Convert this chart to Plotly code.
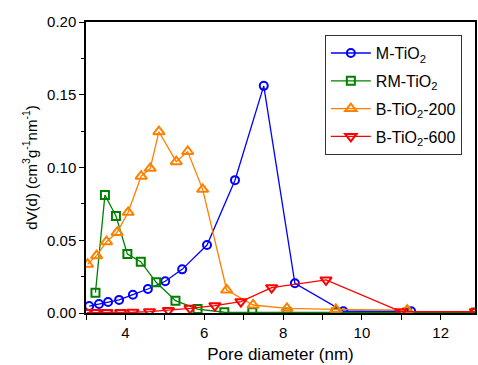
import plotly.graph_objects as go

m_x = [3.08, 3.33, 3.56, 3.84, 4.19, 4.57, 5.01, 5.44, 6.07, 6.78, 7.51, 8.30, 9.53, 11.25]
m_y = [0.0048, 0.0062, 0.0076, 0.0090, 0.0126, 0.0165, 0.0218, 0.0300, 0.0467, 0.0913, 0.1561, 0.0204, 0.0012, 0.0012]

rm_x = [3.24, 3.48, 3.76, 4.05, 4.39, 4.78, 5.27, 5.83, 6.51, 7.22, 8.10, 9.34, 11.15, 12.9]
rm_y = [0.0140, 0.0811, 0.0667, 0.0405, 0.0353, 0.0211, 0.0085, 0.0027, 0.0005, 0.0005, 0.0004, 0.0003, 0.0003, 0.0003]

b200_x = [3.04, 3.27, 3.52, 3.79, 4.07, 4.40, 4.63, 4.85, 5.29, 5.58, 5.96, 6.57, 7.24, 8.10, 9.34, 11.15]
b200_y = [0.0335, 0.0394, 0.0490, 0.0554, 0.0692, 0.0940, 0.0994, 0.1246, 0.1040, 0.1110, 0.0850, 0.0158, 0.0055, 0.0032, 0.0025, 0.0020]

b600_x = [3.02, 3.23, 3.53, 3.88, 4.19, 4.61, 5.09, 5.64, 6.27, 6.93, 7.71, 9.09, 10.99, 12.88]
b600_y = [0.0003, 0.0003, 0.0003, 0.0003, 0.0005, 0.0009, 0.0018, 0.0032, 0.0050, 0.0078, 0.0174, 0.0227, 0.0009, 0.0009]

names = ["M-TiO<sub>2</sub>", "RM-TiO<sub>2</sub>", "B-TiO<sub>2</sub>-200", "B-TiO<sub>2</sub>-600"]

fig = go.Figure()
fig.add_trace(go.Scatter(x=m_x, y=m_y, name=names[0], mode="lines+markers", legendgroup="a",
    line=dict(color="#0000FF", width=1.3),
    marker=dict(symbol="circle-open", size=8, color="#0000FF", line=dict(width=2))))
fig.add_trace(go.Scatter(x=rm_x, y=rm_y, name=names[1], mode="lines+markers", legendgroup="b",
    line=dict(color="#008000", width=1.3),
    marker=dict(symbol="square-open", size=8, color="#008000", line=dict(width=2))))
fig.add_trace(go.Scatter(x=b200_x, y=b200_y, name=names[2], mode="lines+markers", legendgroup="c",
    line=dict(color="#FF8000", width=1.3),
    marker=dict(symbol="triangle-up-open", size=10, color="#FF8000", line=dict(width=2))))
fig.add_trace(go.Scatter(x=b600_x, y=b600_y, name=names[3], mode="lines+markers", legendgroup="d",
    line=dict(color="#FF0000", width=1.3),
    marker=dict(symbol="triangle-down-open", size=10, color="#FF0000", line=dict(width=2))))

font = "Liberation Sans, Arial, sans-serif"
fig.update_layout(
    width=478, height=365,
    margin=dict(l=86, r=1, t=22, b=52),
    paper_bgcolor="white", plot_bgcolor="white",
    font=dict(family=font, color="black", size=15),
    showlegend=True,
    legend=dict(x=0.614, y=0.955, xanchor="left", yanchor="top",
                bordercolor="#333333", borderwidth=1, bgcolor="white",
                font=dict(size=16, family=font), tracegroupgap=4,
                itemwidth=40),
)
fig.update_xaxes(range=[3, 12.87], showline=True, linecolor="black", linewidth=1.5,
                 mirror=True, ticks="outside", ticklen=5, tickcolor="black",
                 tickvals=[4, 6, 8, 10, 12], showgrid=False, zeroline=False,
                 minor=dict(tickvals=[3, 5, 7, 9, 11], ticks="outside", ticklen=5, tickcolor="black"),
                 tickfont=dict(size=15),
                 title=dict(text="Pore diameter (nm)", font=dict(size=17), standoff=8))
fig.update_yaxes(range=[0, 0.2], showline=True, linecolor="black", linewidth=1.5,
                 mirror=True, ticks="outside", ticklen=5, tickcolor="black",
                 tickvals=[0, 0.05, 0.10, 0.15, 0.20], tickformat=".2f",
                 showgrid=False, zeroline=False,
                 minor=dict(tickvals=[0.025, 0.075, 0.125, 0.175], ticks="outside", ticklen=3, tickcolor="black"),
                 tickfont=dict(size=15),
                 title=dict(text="dV(d) (cm<sup>3</sup>g<sup>-1</sup>nm<sup>-1</sup>)", font=dict(size=15), standoff=6))

fig.write_html("out.html")
